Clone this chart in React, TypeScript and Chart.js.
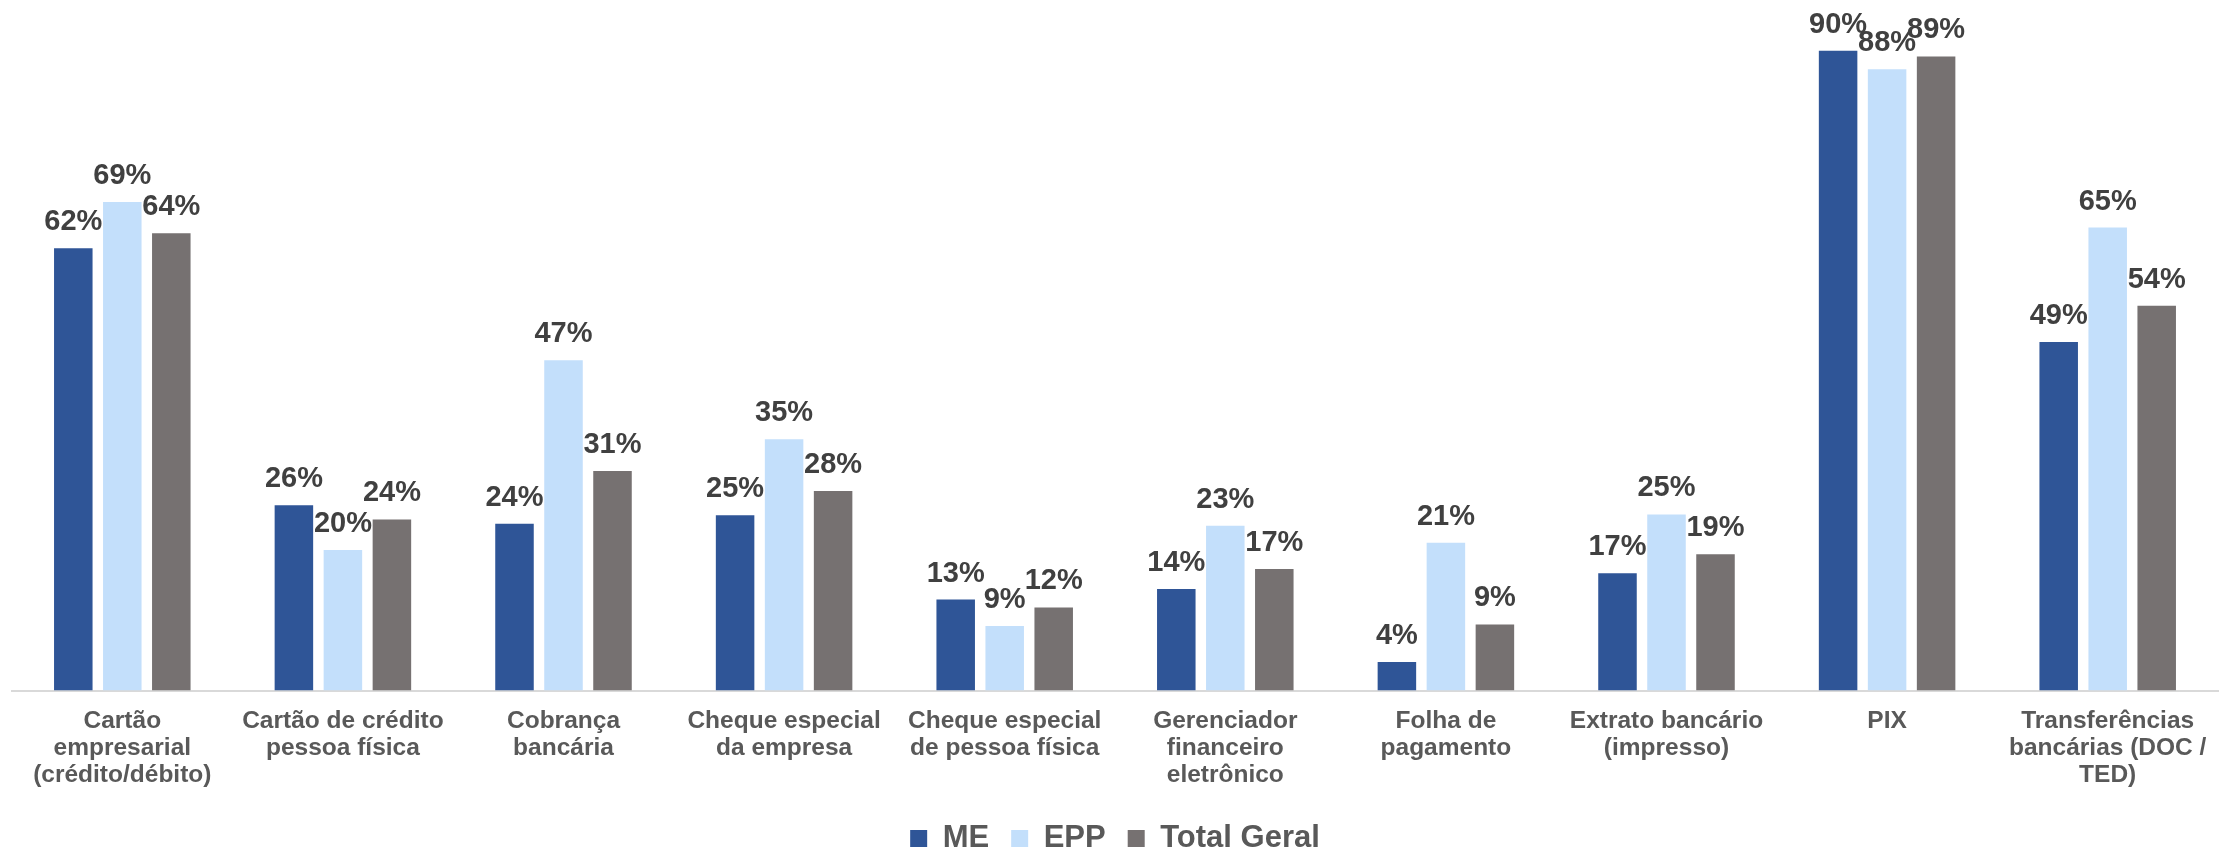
import React, { useEffect, useRef } from "react";
import { Chart, registerables } from "chart.js";

Chart.register(...registerables);

const categories: (string | string[])[] = [
  ["Cartão", "empresarial", "(crédito/débito)"],
  ["Cartão de crédito", "pessoa física"],
  ["Cobrança", "bancária"],
  ["Cheque especial", "da empresa"],
  ["Cheque especial", "de pessoa física"],
  ["Gerenciador", "financeiro", "eletrônico"],
  ["Folha de", "pagamento"],
  ["Extrato bancário", "(impresso)"],
  "PIX",
  ["Transferências", "bancárias (DOC /", "TED)"],
];

const seriesNames = ["ME", "EPP", "Total Geral"];

const meValues = [62.3, 26.1, 23.5, 24.7, 12.8, 14.3, 4.0, 16.5, 90.1, 49.1];
const eppValues = [68.8, 19.8, 46.5, 35.4, 9.1, 23.2, 20.8, 24.8, 87.5, 65.2];
const totalValues = [64.4, 24.1, 30.9, 28.1, 11.7, 17.1, 9.3, 19.2, 89.3, 54.2];

const seriesColors = ["#2F5597", "#C3DFFB", "#767171"];

const FONT = "'Liberation Sans', Arial, sans-serif";

const valueLabelPlugin = {
  id: "valueLabels",
  afterDatasetsDraw(chart: any) {
    const ctx = chart.ctx;
    ctx.save();
    ctx.font = `bold 29px ${FONT}`;
    ctx.fillStyle = "#404040";
    ctx.textAlign = "center";
    ctx.textBaseline = "alphabetic";
    chart.data.datasets.forEach((ds: any, di: number) => {
      const meta = chart.getDatasetMeta(di);
      meta.data.forEach((bar: any, i: number) => {
        const v = ds.data[i];
        ctx.fillText(`${Math.round(v)}%`, bar.x, bar.y - 18);
      });
    });
    ctx.restore();
  },
};

export default function App() {
  const canvasRef = useRef<HTMLCanvasElement | null>(null);

  useEffect(() => {
    const canvas = canvasRef.current;
    if (!canvas) return;
    const allValues = [meValues, eppValues, totalValues];
    const chart = new Chart(canvas, {
      type: "bar",
      data: {
        labels: categories,
        datasets: seriesNames.map((name, i) => ({
          label: name,
          data: allValues[i],
          backgroundColor: seriesColors[i],
          borderWidth: 0,
          categoryPercentage: 0.6664,
          barPercentage: 0.786,
        })),
      },
      options: {
        responsive: false,
        animation: false,
        devicePixelRatio: 1,
        layout: { padding: { top: 16, left: 12, right: 11, bottom: 0 } },
        plugins: {
          legend: {
            display: true,
            position: "bottom",
            labels: {
              boxWidth: 17,
              boxHeight: 17,
              padding: 22,
              color: "#595959",
              font: { family: FONT, size: 31, weight: "bold" },
            },
          },
          tooltip: { enabled: false },
        },
        scales: {
          x: {
            grid: { display: false, drawTicks: false },
            border: { display: true, color: "#D9D9D9", width: 2 },
            ticks: {
              autoSkip: false,
              maxRotation: 0,
              minRotation: 0,
              padding: 17.5,
              color: "#595959",
              font: { family: FONT, size: 24.5, weight: "bold", lineHeight: 1.1 },
            },
            afterFit: (scale: any) => {
              scale.height = 110.5;
            },
          },
          y: {
            display: false,
            min: 0,
            max: 95,
          },
        },
      },
      plugins: [valueLabelPlugin],
    });
    return () => chart.destroy();
  }, []);

  return (
    <div
      style={{
        position: "absolute",
        left: 0,
        top: 0,
        width: 2229,
        height: 853,
        overflow: "hidden",
        background: "#FFFFFF",
      }}
    >
      <canvas
        ref={canvasRef}
        width={2229}
        height={864}
        style={{ display: "block", width: 2229, height: 864 }}
      />
    </div>
  );
}
